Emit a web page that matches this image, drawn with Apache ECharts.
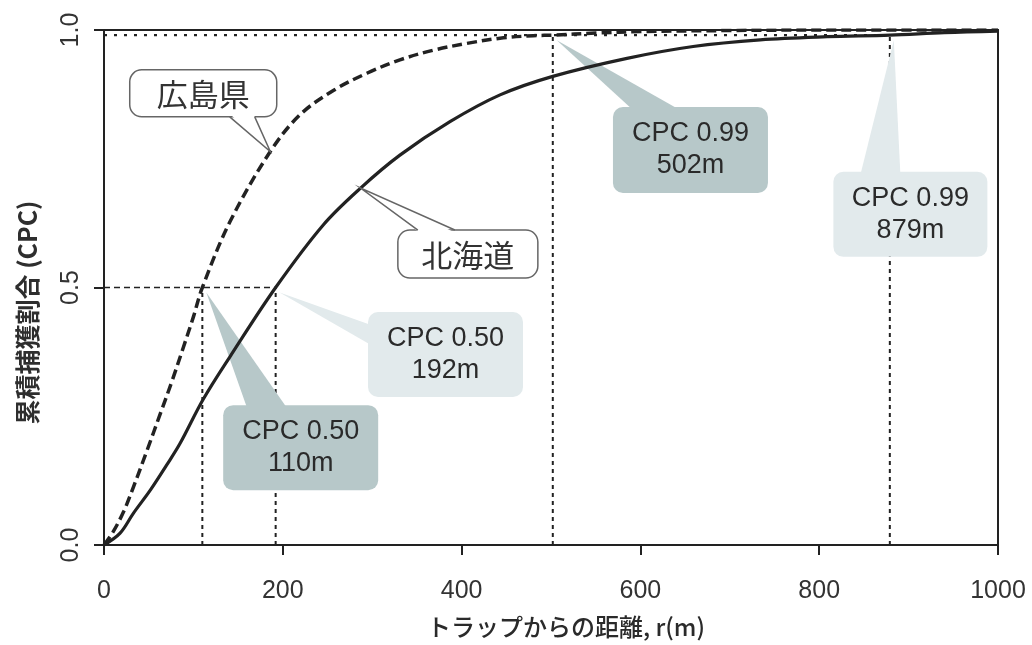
<!DOCTYPE html>
<html>
<head>
<meta charset="utf-8">
<script src="https://cdn.jsdelivr.net/npm/echarts@6/dist/echarts.min.js"></script>
<style>
  html, body { margin: 0; padding: 0; background: #ffffff; }
  #chart { width: 1032px; height: 645px; }
</style>
</head>
<body>
<div id="chart"></div>
<script>
// Cumulative probability of capture (CPC) against distance from the trap
const cpcLevels = [0.50, 0.99];
const hiroshimaDist = [110, 502];   // distance (m) reaching each CPC level
const hokkaidoDist = [192, 879];

// 広島県 curve (dashed)
const hiroshimaR   = [0, 10, 22, 33, 48, 63, 76, 89, 100, 110, 141, 186, 219, 257, 294, 331, 369, 406, 443, 480, 502, 550, 600, 700, 800, 1000];
const hiroshimaCpc = [0, 0.025, 0.065, 0.113, 0.183, 0.255, 0.318, 0.385, 0.443, 0.50, 0.628, 0.764, 0.835, 0.883, 0.916, 0.942, 0.961, 0.974, 0.984, 0.989, 0.990, 0.994, 0.997, 0.999, 1.0, 1.0];

// 北海道 curve (solid)
const hokkaidoR   = [0, 18, 33, 52, 70, 85, 111, 141, 192, 245, 287, 331, 387, 443, 502, 585, 659, 734, 809, 879, 940, 1000];
const hokkaidoCpc = [0, 0.023, 0.062, 0.107, 0.155, 0.197, 0.283, 0.366, 0.50, 0.621, 0.693, 0.757, 0.822, 0.874, 0.910, 0.945, 0.968, 0.981, 0.987, 0.990, 0.995, 0.998];

const xTickLabels = ['0', '200', '400', '600', '800', '1000'];
const yTickLabels = ['0.0', '0.5', '1.0'];

const regionNames = ['広島県', '北海道'];
const xTitle = 'トラップからの距離, r(m)';
const yTitle = '累積捕獲割合 (CPC)';

const zip = (xs, ys) => xs.map((x, i) => [x, ys[i]]);

const INK = '#222222';
const TEXT = '#333333';
const LATIN = '"Liberation Sans", Arial, sans-serif';
const CJK = '"Noto Sans CJK JP", sans-serif';

function refLine(points, type, width) {
  return {
    type: 'line', data: points, symbol: 'none', silent: true, z: 1,
    lineStyle: { color: INK, width: width, type: type },
    emphasis: { disabled: true }
  };
}

const refSeries = [
  // horizontal guide at CPC 0.50 up to the farther 0.50 distance
  refLine([[0, cpcLevels[0]], [hokkaidoDist[0], cpcLevels[0]]], [6, 4], 1.6),
  // horizontal guide at CPC 0.99
  refLine([[0, cpcLevels[1]], [hokkaidoDist[1], cpcLevels[1]]], [3, 7], 2.2),
];
[hiroshimaDist, hokkaidoDist].forEach(dists => {
  dists.forEach((d, i) => {
    refSeries.push(refLine([[d, 0], [d, cpcLevels[i]]], [4, 4], 2));
  });
});

const chart = echarts.init(document.getElementById('chart'), null, { renderer: 'canvas' });

chart.setOption({
  animation: false,
  backgroundColor: '#ffffff',
  grid: {
    left: 104, right: 34, top: 30, bottom: 100,
    show: true, borderColor: INK, borderWidth: 2, backgroundColor: 'transparent'
  },
  xAxis: {
    type: 'value', min: 0, max: 1000, interval: 200,
    name: xTitle, nameLocation: 'middle', nameGap: 70,
    nameTextStyle: { fontFamily: CJK, fontSize: 24, fontWeight: 500, color: '#2a2a2a', padding: [0, 0, 0, 30] },
    axisLine: { show: true, lineStyle: { color: INK, width: 2 } },
    axisTick: { show: true, length: 10, lineStyle: { color: INK, width: 2 } },
    axisLabel: {
      margin: 34, fontFamily: LATIN, fontSize: 25, color: TEXT,
      formatter: v => xTickLabels[Math.round(v / 200)]
    },
    splitLine: { show: false }
  },
  yAxis: {
    type: 'value', min: 0, max: 1, interval: 0.5,
    name: yTitle, nameLocation: 'middle', nameGap: 64,
    nameTextStyle: { fontFamily: CJK, fontSize: 25, fontWeight: 'bold', color: '#2e2e2e', padding: [0, 50, 0, 0] },
    axisLine: { show: true, lineStyle: { color: INK, width: 2 } },
    axisTick: { show: true, length: 10, lineStyle: { color: INK, width: 2 } },
    axisLabel: {
      rotate: 90, margin: 20, fontFamily: LATIN, fontSize: 25, color: TEXT,
      formatter: v => yTickLabels[Math.round(v / 0.5)]
    },
    splitLine: { show: false }
  },
  series: refSeries.concat([
    {
      name: regionNames[0], type: 'line', data: zip(hiroshimaR, hiroshimaCpc),
      symbol: 'none', smooth: 0.35, z: 10,
      lineStyle: { color: INK, width: 3.5, type: [10, 5] }
    },
    {
      name: regionNames[1], type: 'line', data: zip(hokkaidoR, hokkaidoCpc),
      symbol: 'none', smooth: 0.35, z: 10,
      lineStyle: { color: INK, width: 3.2 }
    }
  ])
});

// ---- annotation boxes, placed in data space and converted through the axes ----
const DARK_FILL = '#b7c8c9';
const LIGHT_FILL = '#e2eaec';

const cpcBoxes = [
  { level: 1, dist: hiroshimaDist, center: [656, 0.767], w: 155, h: 86, fill: DARK_FILL,  side: 'top',  from: 20, to: 67 },
  { level: 1, dist: hokkaidoDist,  center: [902, 0.642], w: 154, h: 85, fill: LIGHT_FILL, side: 'top',  from: 27, to: 67 },
  { level: 0, dist: hokkaidoDist,  center: [382, 0.370], w: 155, h: 85, fill: LIGHT_FILL, side: 'left', from: 13, to: 33 },
  { level: 0, dist: hiroshimaDist, center: [220, 0.189], w: 155, h: 85, fill: DARK_FILL,  side: 'top',  from: 24, to: 64 }
];

const bubbles = [
  { name: regionNames[0], curveR: hiroshimaR, curveC: hiroshimaCpc, at: 186, center: [111, 0.877], w: 147, h: 47, side: 'bottom', from: 100, to: 125 },
  { name: regionNames[1], curveR: hokkaidoR,  curveC: hokkaidoCpc,  at: 287, center: [407, 0.565], w: 140, h: 48, side: 'top',    from: 20,  to: 57 }
];

function toPx(x, y) { return chart.convertToPixel({ gridIndex: 0 }, [x, y]); }

function buildAnnotations() {
  const els = [];

  cpcBoxes.forEach(b => {
    const level = cpcLevels[b.level];
    const d = b.dist[b.level];
    const c = toPx(b.center[0], b.center[1]);
    const left = c[0] - b.w / 2, top = c[1] - b.h / 2;
    const a = toPx(d, level);
    const tip = [a[0] + 4, a[1] + 5];
    let p0, p1;
    if (b.side === 'top') { p0 = [left + b.from, top + 3]; p1 = [left + b.to, top + 3]; }
    else { p0 = [left + 3, top + b.from]; p1 = [left + 3, top + b.to]; }
    els.push({ type: 'polygon', z: 5, silent: true, shape: { points: [tip, p0, p1] }, style: { fill: b.fill } });
    els.push({ type: 'rect', z: 5, silent: true, shape: { x: left, y: top, width: b.w, height: b.h, r: 10 }, style: { fill: b.fill } });
    els.push({
      type: 'text', z: 6, silent: true,
      style: {
        text: 'CPC ' + level.toFixed(2) + '\n' + d + 'm',
        x: c[0], y: c[1], textAlign: 'center', textVerticalAlign: 'middle',
        align: 'center', verticalAlign: 'middle',
        font: '27px ' + LATIN, fill: '#2a2a2a', lineHeight: 32
      }
    });
  });

  bubbles.forEach(b => {
    const idx = b.curveR.indexOf(b.at);
    const a = toPx(b.curveR[idx], b.curveC[idx]);
    const c = toPx(b.center[0], b.center[1]);
    const left = c[0] - b.w / 2, top = c[1] - b.h / 2;
    const edgeY = b.side === 'bottom' ? top + b.h : top;
    const inset = b.side === 'bottom' ? -2 : 2;
    const e0 = [left + b.from, edgeY], e1 = [left + b.to, edgeY];
    els.push({ type: 'rect', z: 20, silent: true, shape: { x: left, y: top, width: b.w, height: b.h, r: 12 },
               style: { fill: '#ffffff', stroke: '#666666', lineWidth: 1.5 } });
    els.push({ type: 'polygon', z: 21, silent: true,
               shape: { points: [a, [e0[0] + 1, edgeY + inset], [e1[0] - 1, edgeY + inset]] },
               style: { fill: '#ffffff' } });
    els.push({ type: 'polyline', z: 22, silent: true, shape: { points: [e0, a, e1] },
               style: { stroke: '#666666', lineWidth: 1.5, fill: null } });
    els.push({
      type: 'text', z: 23, silent: true,
      style: {
        text: b.name, x: c[0], y: c[1] + 1, textAlign: 'center', textVerticalAlign: 'middle',
        align: 'center', verticalAlign: 'middle',
        font: '31px ' + CJK, fill: '#333333'
      }
    });
  });

  return els;
}

chart.setOption({ graphic: { elements: buildAnnotations() } });
</script>
</body>
</html>
